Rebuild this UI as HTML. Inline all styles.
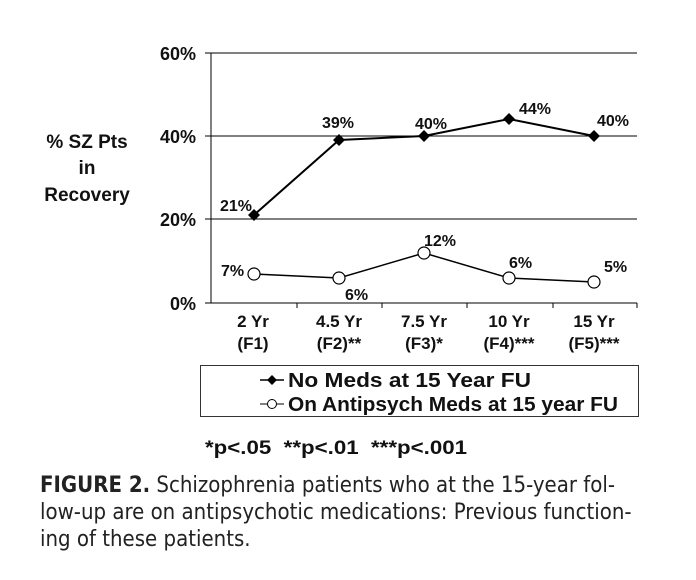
<!DOCTYPE html>
<html><head><style>
body{margin:0;width:696px;height:580px;background:#fff;overflow:hidden;font-family:"Liberation Sans",Arial,sans-serif}
.cap{position:absolute;left:40px;top:472px;width:650px;font-size:22px;line-height:27px;color:#222;font-family:"DejaVu Sans Condensed","Liberation Sans Narrow","Liberation Sans",sans-serif}
</style></head><body>
<svg width="696" height="580" style="position:absolute;left:0;top:0" font-family="Liberation Sans, Arial, sans-serif" font-weight="bold" fill="#111">
<g stroke="#000" stroke-width="1">
<line x1="205" y1="53" x2="637" y2="53"/>
<line x1="205" y1="136" x2="637" y2="136"/>
<line x1="205" y1="219" x2="637" y2="219"/>
<line x1="205" y1="303" x2="637" y2="303"/>
<line x1="211" y1="53" x2="211" y2="303"/>
<line x1="297" y1="303" x2="297" y2="308"/>
<line x1="382" y1="303" x2="382" y2="308"/>
<line x1="467" y1="303" x2="467" y2="308"/>
<line x1="553" y1="303" x2="553" y2="308"/>
<line x1="637" y1="303" x2="637" y2="308"/>
</g>
<g font-size="18" text-anchor="end">
<text x="196" y="60">60%</text><text x="196" y="143">40%</text><text x="196" y="226">20%</text><text x="196" y="310">0%</text>
</g>
<g font-size="19" text-anchor="middle">
<text x="87" y="148">% SZ Pts</text><text x="87" y="174">in</text><text x="87" y="201">Recovery</text>
</g>
<g font-size="17" text-anchor="middle">
<text x="253" y="327">2 Yr</text><text x="253" y="349">(F1)</text>
<text x="339" y="327">4.5 Yr</text><text x="339" y="349">(F2)**</text>
<text x="424" y="327">7.5 Yr</text><text x="424" y="349">(F3)*</text>
<text x="509" y="327">10 Yr</text><text x="509" y="349">(F4)***</text>
<text x="594" y="327">15 Yr</text><text x="594" y="349">(F5)***</text>
</g>
<polyline points="254,215 339,140 424,136 509,119 594,136" fill="none" stroke="#000" stroke-width="2"/>
<g fill="#000">
<path d="M254,209l6,6l-6,6l-6,-6z"/><path d="M339,134l6,6l-6,6l-6,-6z"/><path d="M424,130l6,6l-6,6l-6,-6z"/><path d="M509,113l6,6l-6,6l-6,-6z"/><path d="M594,130l6,6l-6,6l-6,-6z"/>
</g>
<polyline points="254,274 339,278 424,253 509,278 594,282" fill="none" stroke="#000" stroke-width="1.5"/>
<g fill="#fff" stroke="#000" stroke-width="1.2">
<circle cx="254" cy="274" r="6"/><circle cx="339" cy="278" r="6"/><circle cx="424" cy="253" r="6"/><circle cx="509" cy="278" r="6"/><circle cx="594" cy="282" r="6"/>
</g>
<g font-size="16">
<text x="220" y="211">21%</text><text x="322" y="128">39%</text><text x="415" y="129">40%</text><text x="519" y="114">44%</text><text x="597" y="126">40%</text>
<text x="221" y="276">7%</text><text x="345" y="300">6%</text><text x="424" y="246">12%</text><text x="509" y="268">6%</text><text x="604" y="272">5%</text>
</g>
<rect x="200.5" y="365.5" width="438" height="51" fill="none" stroke="#333"/>
<line x1="260" y1="380" x2="284" y2="380" stroke="#000" stroke-width="1.5"/>
<path d="M272,375l5,5l-5,5l-5,-5z" fill="#000"/>
<line x1="260" y1="404" x2="284" y2="404" stroke="#000" stroke-width="1"/>
<circle cx="272" cy="404" r="4.5" fill="#fff" stroke="#000"/>
<g font-size="20"><text x="288" y="387" textLength="243" lengthAdjust="spacingAndGlyphs">No Meds at 15 Year FU</text><text x="288" y="411" textLength="330" lengthAdjust="spacingAndGlyphs">On Antipsych Meds at 15 year FU</text></g>
<text x="205" y="454" font-size="19" textLength="262" lengthAdjust="spacingAndGlyphs">*p&lt;.05 &#160;**p&lt;.01 &#160;***p&lt;.001</text>
</svg>
<div class="cap"><span style="font-weight:bold">FIGURE 2.</span> Schizophrenia patients who at the 15-year fol-<br>low-up are on antipsychotic medications: Previous function-<br>ing of these patients.</div>
</body></html>
